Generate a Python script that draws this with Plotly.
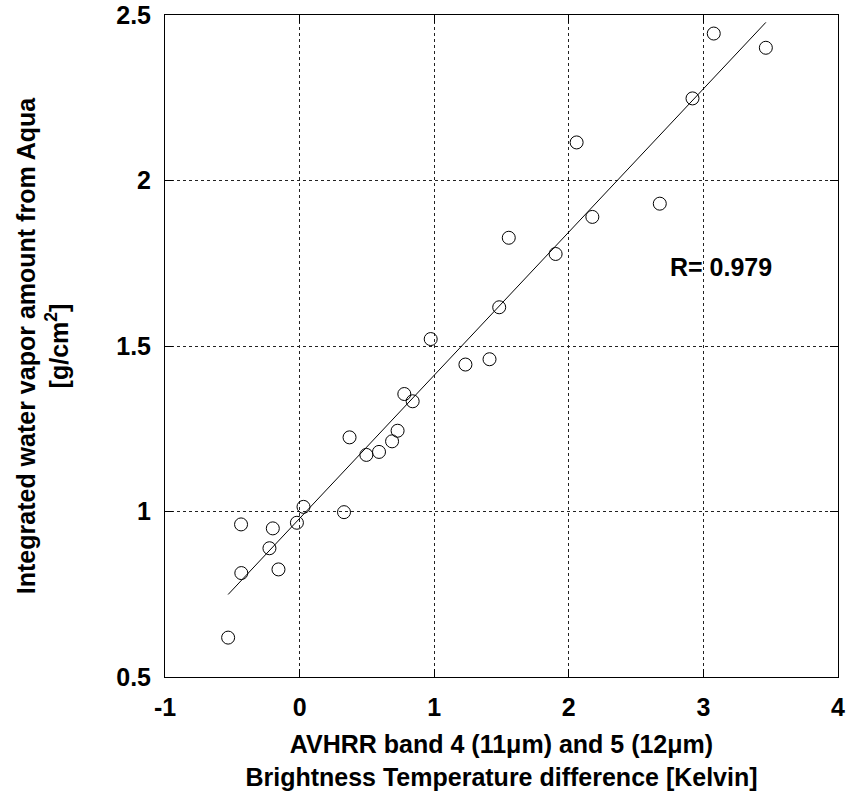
import numpy as np
import plotly.graph_objects as go

# Brightness temperature difference (band 4 - band 5), Kelvin
bt_diff = [-0.531, -0.433, -0.435, -0.224, -0.199, -0.157, -0.020, 0.029,
           0.330, 0.371, 0.496, 0.590, 0.687, 0.728, 0.778, 0.840,
           0.974, 1.232, 1.411, 1.483, 1.554, 1.902, 2.058, 2.175,
           2.676, 2.919, 3.077, 3.464]
# Integrated water vapor amount from Aqua, g/cm^2
water_vapor = [0.619, 0.814, 0.961, 0.889, 0.949, 0.825, 0.966, 1.014,
               0.998, 1.224, 1.171, 1.180, 1.212, 1.244, 1.355, 1.333,
               1.521, 1.444, 1.460, 1.617, 1.827, 1.778, 2.115, 1.890,
               1.930, 2.248, 2.444, 2.401]

r_label = "R= 0.979"
x_ticks = [-1, 0, 1, 2, 3, 4]
y_ticks = [0.5, 1, 1.5, 2, 2.5]

# least-squares regression line over the data span
x = np.array(bt_diff)
y = np.array(water_vapor)
slope, intercept = np.polyfit(x, y, 1)
x_fit = np.array([x.min(), x.max()])
y_fit = slope * x_fit + intercept

family = "Liberation Sans, Arial, sans-serif"
tick_font = dict(family=family, size=25, color="black")
title_font = dict(family=family, size=25, color="black")
label_font = dict(family=family, size=25, color="black")

fig = go.Figure()
fig.add_trace(go.Scatter(
    x=x_fit, y=y_fit, mode="lines",
    line=dict(color="black", width=1), showlegend=False, hoverinfo="skip"))
fig.add_trace(go.Scatter(
    x=bt_diff, y=water_vapor, mode="markers",
    marker=dict(symbol="circle-open", size=13, color="black",
                line=dict(color="black", width=1)),
    showlegend=False))

fig.add_annotation(x=2.735, y=1.74, xanchor="left", text="<b>" + r_label + "</b>",
                   showarrow=False, font=label_font)

axis_common = dict(
    showgrid=True, gridcolor="#222222", gridwidth=1, griddash="3px,3px",
    zeroline=False, showline=True, linecolor="black", linewidth=1,
    mirror="ticks", ticks="inside", ticklen=8, tickcolor="black",
    tickfont=tick_font, automargin=False,
)

fig.update_xaxes(
    range=[-1, 4], tickvals=x_ticks, ticktext=[f"<b>{v}</b>" for v in x_ticks],
    ticklabelstandoff=8,
    title=dict(text="<b>AVHRR band 4 (11μm) and 5 (12μm)<br>"
                    "Brightness Temperature difference [Kelvin]</b>",
               font=title_font, standoff=15),
    **axis_common)
fig.update_yaxes(
    range=[0.5, 2.5], tickvals=y_ticks, ticktext=[f"<b>{v}</b>" for v in y_ticks],
    ticklabelstandoff=8,
    title=dict(text="<b>Integrated water vapor amount from Aqua<br>"
                    "[g/cm<sup>2</sup>]</b>",
               font=title_font, standoff=40),
    **axis_common)

fig.update_layout(
    width=861, height=791,
    margin=dict(l=165, r=23, t=15, b=114),
    paper_bgcolor="white", plot_bgcolor="white",
    font=tick_font,
)

fig.write_html("out.html")
